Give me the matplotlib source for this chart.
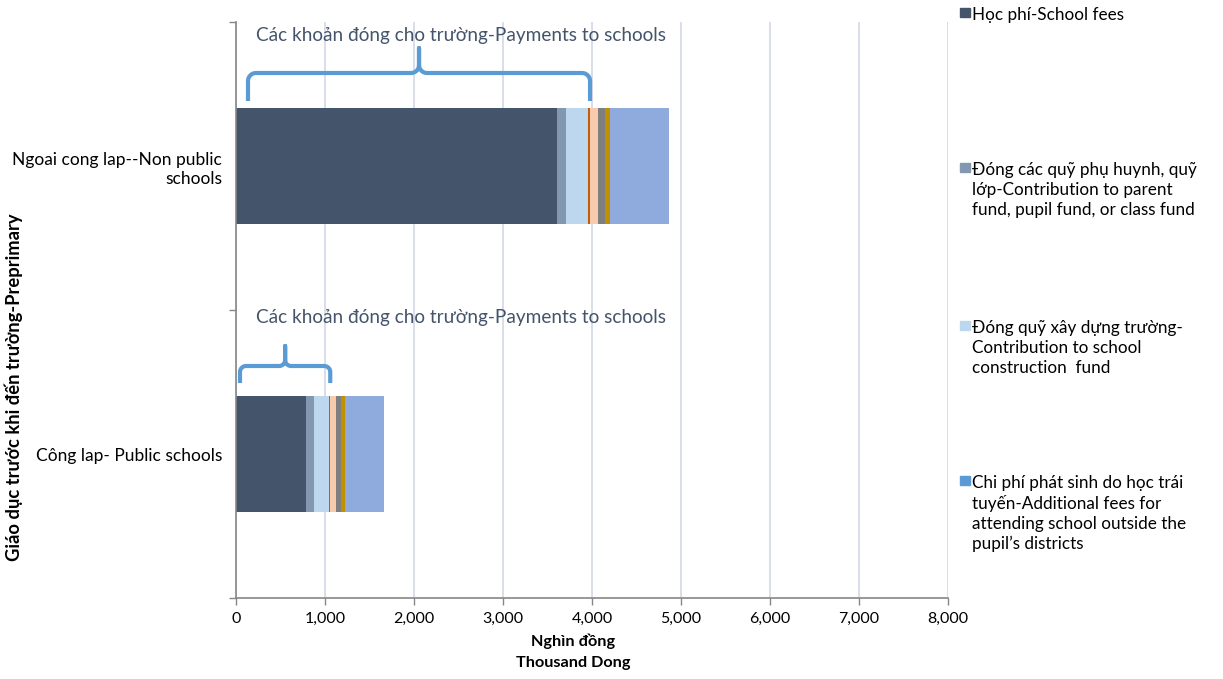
import matplotlib
matplotlib.use("Agg")
import matplotlib.pyplot as plt
import numpy as np

plt.rcParams['font.family'] = ['Lato', 'DejaVu Sans']

# Categories (bottom to top)
categories = ["Công lap- Public schools", "Ngoai cong lap--Non public\nschools"]

# Expense components, thousand VND
series_names = [
    "Học phí-School fees",
    "Đóng các quỹ phụ huynh, quỹ\nlớp-Contribution to parent\nfund, pupil fund, or class fund",
    "Đóng quỹ xây dựng trường-\nContribution to school\nconstruction  fund",
    "Chi phí phát sinh do học trái\ntuyến-Additional fees for\nattending school outside the\npupil’s districts",
    "Other payments to school",
    "Textbooks",
    "Supplies",
    "Uniforms",
    "Private tutoring and other",
]
school_fees = [787, 3610]
parent_fund = [89, 98]
construction_fund = [165, 247]
outside_district = [3, 4]
other_school = [15, 19]
textbooks = [68, 86]
supplies = [56, 78]
uniforms = [45, 64]
other_costs = [430, 663]

series_values = [school_fees, parent_fund, construction_fund, outside_district,
                 other_school, textbooks, supplies, uniforms, other_costs]
colors = ["#44546A", "#8497B0", "#BDD7EE", "#5B9BD5", "#C55A11",
          "#F8CBAD", "#7F7F7F", "#BF9000", "#8FAADC"]

brace_text = "Các khoản đóng cho trường-Payments to schools"
n_school_payments = 5  # first components paid to schools

W, H = 1223, 679
fig = plt.figure(figsize=(W / 100, H / 100), dpi=100)
ax = fig.add_axes([236 / W, 1 - 598 / H, (948 - 236) / W, (598 - 22) / H])

y = np.arange(len(categories))
left = np.zeros(len(categories))
for vals, c in zip(series_values, colors):
    ax.barh(y, vals, left=left, height=0.4, color=c, zorder=2)
    left += np.array(vals)

ax.set_xlim(0, 8000)
ax.set_ylim(-0.5, 1.5)
ax.set_xticks(np.arange(0, 8001, 1000))
ax.set_xticklabels([f"{v:,}" for v in range(0, 8001, 1000)], fontsize=11.5)
ax.xaxis.grid(True, color="#D5DBE8", linewidth=1.3, zorder=0)
ax.set_axisbelow(True)
ax.set_yticks(y)
ax.set_yticklabels(categories, fontsize=12.5, linespacing=1.3)
ax.tick_params(axis='y', length=0, pad=10)
ax.set_yticks([-0.5, 0.5, 1.5], minor=True)
ax.tick_params(axis='y', which='minor', length=5, color="#868686", width=1)
ax.tick_params(axis='x', length=5, color="#868686", width=1, pad=5)
for s in ["top", "right"]:
    ax.spines[s].set_visible(False)
for s in ["left", "bottom"]:
    ax.spines[s].set_color("#868686")
    ax.spines[s].set_linewidth(1.2)

fig.text(573 / W, 1 - 641 / H, "Nghìn đồng", ha="center", va="center",
         fontsize=11.7, fontweight="bold")
fig.text(573 / W, 1 - 663 / H, "Thousand Dong", ha="center", va="center",
         fontsize=11.7, fontweight="bold")
fig.text(14 / W, 1 - 387 / H, "Giáo dục trước khi đến trường-Preprimary", rotation=90,
         ha="center", va="center", fontsize=13.2, fontweight="bold")


def px_to_fig(xp, yp):
    return np.asarray(xp) / W, 1 - np.asarray(yp) / H


def draw_brace(x0, x1, xm, y_end, y_line, y_tip, r):
    """Curly brace in pixel space, opening downward."""
    pts = []
    def arc(cx, cy, a0, a1):
        t = np.linspace(np.radians(a0), np.radians(a1), 12)
        return list(zip(cx + r * np.cos(t), cy - r * np.sin(t)))
    pts += [(x0, y_end)]
    pts += arc(x0 + r, y_line + r, 180, 90)
    pts += [(xm - r, y_line)]
    pts += arc(xm - r, y_line - r, 270, 360)
    pts += [(xm, y_tip)]
    pts += arc(xm + r, y_line - r, 180, 270)
    pts += [(x1 - r, y_line)]
    pts += arc(x1 - r, y_line + r, 90, 0)
    pts += [(x1, y_end)]
    xs, ys = zip(*pts)
    fx, fy = px_to_fig(xs, ys)
    fig.add_artist(plt.Line2D(fx, fy, color="#5B9BD5", linewidth=3,
                              solid_capstyle="butt", solid_joinstyle="round"))


def data_x_to_px(v):
    return ax.transData.transform((v, 0))[0]


fig.canvas.draw()
school_totals = np.sum(np.array(series_values[:n_school_payments]), axis=0)
# (category index, brace end y, line y, tip y, text y)
brace_geom = [(1, 101, 73, 48, 36), (0, 383, 366, 346, 318)]
for idx, y_end, y_line, y_tip, y_txt in brace_geom:
    xa = data_x_to_px(0) + (12 if idx == 1 else 4)
    xb = data_x_to_px(school_totals[idx])
    xm = (xa + xb) / 2
    r = 8 if idx == 1 else 6
    draw_brace(xa, xb, xm, y_end, y_line, y_tip, r)
    fx, fy = px_to_fig(461, y_txt)
    fig.text(fx, fy, brace_text, ha="center", va="center", fontsize=13.7, color="#44546A")

# Legend (first four components)
legend_rows = [(0, 17), (1, 172), (2, 330), (3, 485)]
for i, yp in legend_rows:
    fx, fy = px_to_fig(960, yp)
    fig.add_artist(plt.Rectangle((fx, fy), 10 / W, 9 / H, color=colors[i],
                                 transform=fig.transFigure))
    tx, ty = px_to_fig(972, yp - 10)
    fig.text(tx, ty, series_names[i], ha="left", va="top", fontsize=12.3,
             linespacing=1.3)

fig.savefig("out.png", dpi=100)
